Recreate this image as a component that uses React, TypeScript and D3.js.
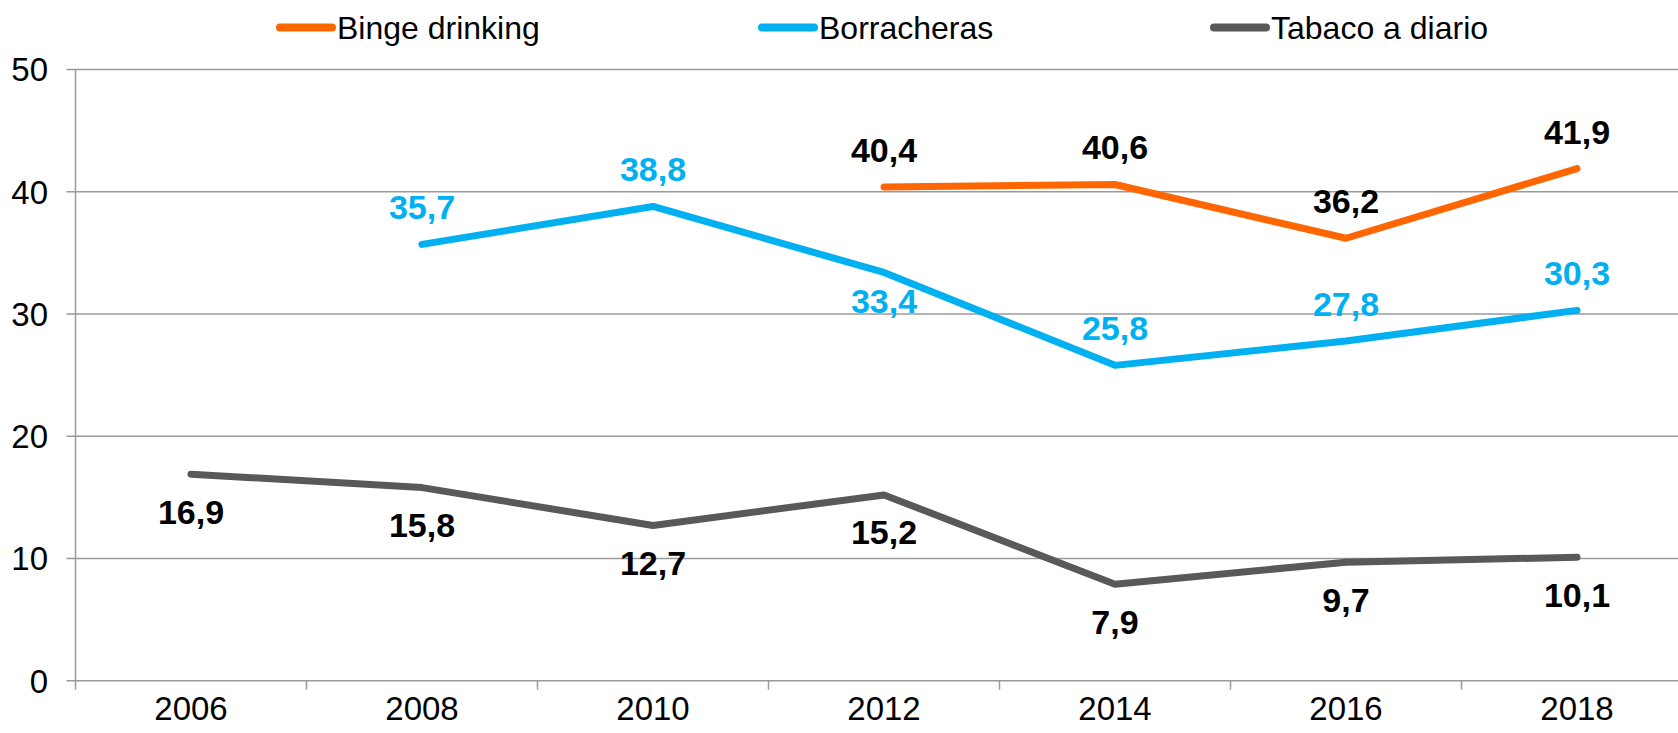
import React from "react";
import * as d3 from "d3";

const years = ["2006", "2008", "2010", "2012", "2014", "2016", "2018"];
const bingeDrinking: (number | null)[] = [null, null, null, 40.4, 40.6, 36.2, 41.9];
const borracheras: (number | null)[] = [null, 35.7, 38.8, 33.4, 25.8, 27.8, 30.3];
const tabacoDiario: (number | null)[] = [16.9, 15.8, 12.7, 15.2, 7.9, 9.7, 10.1];
const yTicks = [0, 10, 20, 30, 40, 50];

const W = 1678;
const H = 733;
const FONT = "'Liberation Sans', Arial, sans-serif";

const series = [
  { name: "Binge drinking", values: bingeDrinking, color: "#FF6600", labelColor: "#000000", labelDy: -25 },
  { name: "Borracheras", values: borracheras, color: "#00B0F0", labelColor: "#00B0F0", labelDy: -25 },
  { name: "Tabaco a diario", values: tabacoDiario, color: "#595959", labelColor: "#000000", labelDy: 49.5 },
];
// Borracheras 2012 label sits below the line
const belowOverrides: Record<string, number> = { "Borracheras|2012": 41 };

const legendX = [276, 758, 1210];

export default function App() {
  const left = 75.5;
  const x = d3.scaleBand<string>().domain(years).range([left, left + 231 * years.length]);
  const y = d3.scaleLinear().domain([0, 50]).range([680.7, 69.6]);
  const cx = (yr: string) => (x(yr) as number) + x.bandwidth() / 2;
  const fmt = (v: number) => v.toFixed(1).replace(".", ",");
  const grid = "#9a9a9a";

  return (
    <svg width={W} height={H} style={{ position: "absolute", left: 0, top: 0, background: "#fff" }} fontFamily={FONT}>
      {/* gridlines */}
      {yTicks.map((t) => (
        <g key={t}>
          <line x1={left - 9} x2={W} y1={y(t)} y2={y(t)} stroke={grid} strokeWidth={1.5} />
          <text x={48} y={y(t)} dy="0.36em" textAnchor="end" fontSize={33} fill="#000">
            {t}
          </text>
        </g>
      ))}
      {/* y axis */}
      <line x1={left} x2={left} y1={y(50)} y2={y(0) + 9} stroke={grid} strokeWidth={1.5} />
      {/* x ticks */}
      {years.map((yr, i) =>
        i > 0 ? (
          <line key={"t" + yr} x1={x(yr) as number} x2={x(yr) as number} y1={y(0)} y2={y(0) + 9} stroke={grid} strokeWidth={1.5} />
        ) : null
      )}
      {years.map((yr) => (
        <text key={"l" + yr} x={cx(yr)} y={719.5} textAnchor="middle" fontSize={33} fill="#000">
          {yr}
        </text>
      ))}
      {/* lines */}
      {series.map((s) => {
        const pts = years.map((yr, i) => ({ yr, v: s.values[i] }));
        const line = d3
          .line<{ yr: string; v: number | null }>()
          .defined((d) => d.v != null)
          .x((d) => cx(d.yr))
          .y((d) => y(d.v as number));
        return (
          <path key={s.name} d={line(pts) || ""} fill="none" stroke={s.color} strokeWidth={7} strokeLinecap="round" strokeLinejoin="round" />
        );
      })}
      {/* labels */}
      {series.map((s) =>
        years.map((yr, i) => {
          const v = s.values[i];
          if (v == null) return null;
          const dy = belowOverrides[s.name + "|" + yr] ?? s.labelDy;
          return (
            <text key={s.name + yr} x={cx(yr)} y={y(v) + dy} textAnchor="middle" fontSize={34} fontWeight="bold" fill={s.labelColor}>
              {fmt(v)}
            </text>
          );
        })
      )}
      {/* legend */}
      {series.map((s, i) => (
        <g key={"lg" + s.name}>
          <line x1={legendX[i] + 4} x2={legendX[i] + 56} y1={27.5} y2={27.5} stroke={s.color} strokeWidth={8} strokeLinecap="round" />
          <text x={legendX[i] + 61} y={38.5} fontSize={32} fill="#000">
            {s.name}
          </text>
        </g>
      ))}
    </svg>
  );
}
